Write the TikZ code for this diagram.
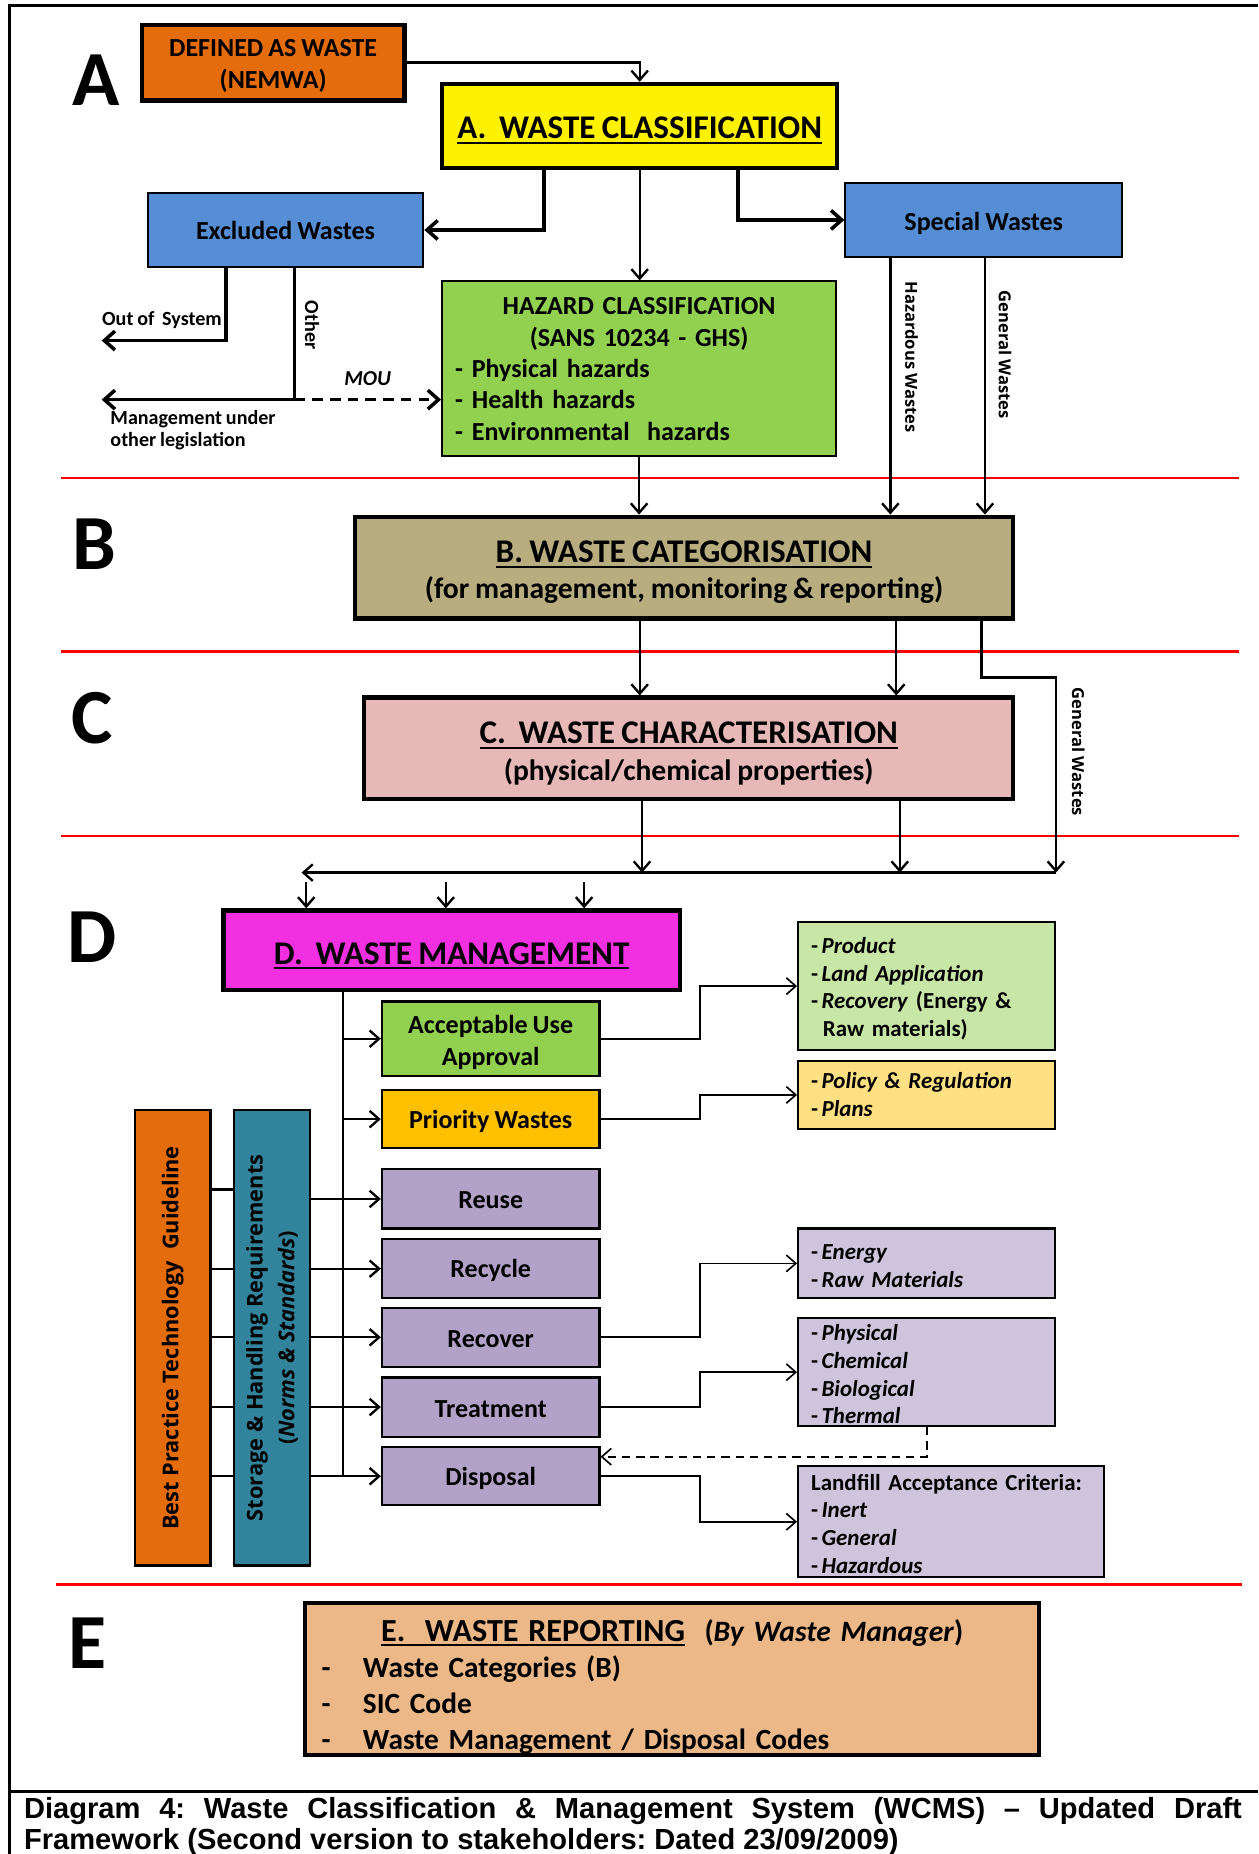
\documentclass[tikz,border=0pt]{standalone}
\usepackage{fontspec}
\setmainfont{Carlito}[WordSpace=0.85]
\newfontfamily\osans{Open Sans}
\newfontfamily\capfont{Liberation Sans}
\usetikzlibrary{arrows.meta,calc}
\frenchspacing
\definecolor{cOrange}{HTML}{E46C0A}
\definecolor{cBlue}{HTML}{558ED5}
\definecolor{cGreen}{HTML}{92D050}
\definecolor{cKhaki}{HTML}{B7AD7F}
\definecolor{cPink}{HTML}{E6B9B8}
\definecolor{cMag}{HTML}{F22FE1}
\definecolor{cPri}{HTML}{FFC000}
\definecolor{cLav}{HTML}{B3A2C7}
\definecolor{cLGreen}{HTML}{C8E6A6}
\definecolor{cLYellow}{HTML}{FFE083}
\definecolor{cLLav}{HTML}{CEC5DC}
\definecolor{cTeal}{HTML}{31849B}
\definecolor{cE}{HTML}{EDB887}
\newcommand\ulx[1]{\setbox0\hbox{#1}\rlap{\rule[-2.2pt]{\wd0}{1pt}}\box0}
\newcommand\bx[7]{\node[#6, minimum width={(#4-#2)*0.5pt}, minimum height={(#5-#3)*0.5pt}] (#1) at ({(#2+#4)/2},{(#3+#5)/2}) {#7};}
\newcommand\fs[2]{\fontsize{#1}{#2}\selectfont}
\newcommand\st[1]{\rule{0pt}{#1}}
\newcommand\dd{-\hspace{0.15em}}
\tikzset{
  thickbox/.style={draw, line width=1.8pt, inner sep=0pt, font=\bfseries},
  thinbox/.style={draw, line width=0.9pt, inner sep=0pt, font=\bfseries},
  arr/.style={line width=1pt, -{Straight Barb[length=4pt,width=7pt]}},
  arrT/.style={line width=1.5pt, -{Straight Barb[length=4.5pt,width=8pt]}},
  arrS/.style={line width=0.7pt, -{Straight Barb[length=4pt,width=7pt]}},
  redline/.style={red, line width=1pt},
  bigletter/.style={font=\bfseries\fs{33}{33}, inner sep=0pt},
  vlabel/.style={rotate=-90, font=\osans\bfseries\fs{7}{8}, inner sep=0pt},
  smalllabel/.style={font=\bfseries\fs{8.5}{9.5}, inner sep=0pt},
  listfont/.style={font=\bfseries\fs{9.7}{11.75}},
}
\begin{document}
\begin{tikzpicture}[x=0.5pt,y=-0.5pt]
\useasboundingbox (0,0) rectangle (1064,1568);
% frame
\draw[line width=1.2pt] (1064,5) -- (8,5) -- (8,1568);
\draw[line width=1.2pt] (8,1515) -- (1064,1515);
% red separators
\draw[redline] (52,404) -- (1048,404);
\draw[redline] (52,551) -- (1048,551);
\draw[redline] (52,707) -- (1048,707);
\draw[redline] (47,1340) -- (1050,1340);
% section letters
\node[bigletter] (LA) at (81,68) {A};
\node[bigletter] (LB) at (80,460) {B};
\node[bigletter] (LC) at (78,607) {C};
\node[bigletter] (LD) at (78,793) {D};
\node[bigletter] (LE) at (74,1390) {E};
% ---- A section
\bx{def}{120}{21}{342}{85}{thickbox,fill=cOrange,align=center,font=\bfseries\fs{11}{13.5}}{\st{10pt}DEFINED AS WASTE\\(NEMWA)}
\bx{A}{374}{71}{708}{142}{thickbox,fill=yellow,font=\bfseries\fs{14}{16}}{\st{13pt}\ulx{A.\ \ WASTE CLASSIFICATION}}
\bx{exc}{125}{163}{358}{226}{thinbox,fill=cBlue,font=\bfseries\fs{11}{13}}{\st{8.5pt}Excluded Wastes}
\bx{spec}{715}{155}{949}{217}{thinbox,fill=cBlue,font=\bfseries\fs{11}{13}}{\st{10.5pt}Special Wastes}
\bx{haz}{374}{238}{707}{386}{thinbox,fill=cGreen,align=left,text width=155.5pt,font=\bfseries\fs{11}{13.25}}{\makebox[\linewidth]{HAZARD CLASSIFICATION}\\\makebox[\linewidth]{(SANS 10234 - GHS)}\\- Physical hazards\\- Health hazards\\- Environmental\ \ hazards}
\draw[arr] (def.east) -| (A.north);
\draw[arrT] (A.south -| 460,0) |- (exc.east);
\draw[arrT] (A.south -| 624,0) |- (spec.west);
\draw[arr] (A.south) -- (A.south |- haz.north);
\coordinate (oos) at (86,288);
\coordinate (mj) at (249,338);
\coordinate (mol) at (86,338);
\draw[arrT] (exc.south -| 191,0) |- (oos);
\draw[line width=1.5pt] (exc.south -| mj) -- (mj);
\draw[arrT] (mj) -- (mol);
\draw[arrT, dash pattern=on 4.5pt off 3pt] (mj) -- (haz.west |- mj);
\node[smalllabel, anchor=east] (oosl) at (188,271) {Out of\ \ System};
\node[smalllabel, anchor=west, align=left] (mgl) at (93,364) {Management under\\other legislation};
\node[smalllabel, rotate=-90] (oth) at (264,275) {Other};
\node[font=\bfseries\itshape\fs{9}{10}, inner sep=0pt] (mou) at (311,320) {MOU};
\node[vlabel] (hw) at (771,302) {Hazardous Wastes};
\node[vlabel] (gw1) at (850,300) {General Wastes};
% ---- B section
\bx{B}{300}{437}{857}{523}{thickbox,fill=cKhaki,align=center,font=\bfseries\fs{12.5}{15}}{{\fs{14}{15}\st{13pt}\ulx{B. WASTE CATEGORISATION}}\\(for management, monitoring \& reporting)}
\draw[arr] (spec.south -| 753,0) -- (B.north -| 753,0);
\draw[arr] (spec.south -| 833,0) -- (B.north -| 833,0);
\draw[arr] (haz.south) -- (haz.south |- B.north);
% ---- C section
\bx{C}{308}{590}{857}{676}{thickbox,fill=cPink,align=center,font=\bfseries\fs{12.5}{15.5}}{{\fs{14}{15.5}\st{13.5pt}\ulx{C.\ \ WASTE CHARACTERISATION}}\\(physical/chemical properties)}
\draw[arr] (B.south -| 541,0) -- (C.north -| 541,0);
\draw[arr] (B.south -| 758,0) -- (C.north -| 758,0);
\coordinate (gwb) at (893,738);
\coordinate (busl) at (255,738);
\draw[arr] (B.south -| 830,0) -- (830,573) -| (gwb);
\node[vlabel] (gw2) at (912,636) {General Wastes};
\draw[arr] (C.south -| 543,0) -- (gwb -| 543,0);
\draw[arr] (C.south -| 761,0) -- (gwb -| 761,0);
\draw[arr] (gwb) -- (busl);
% ---- D section
\bx{D}{189}{770}{575}{837}{thickbox,fill=cMag,font=\bfseries\fs{14}{16}}{\st{14pt}\ulx{D.\ \ WASTE MANAGEMENT}}
\draw[arr] (259,746) -- (D.north -| 259,0);
\draw[arr] (377,746) -- (D.north -| 377,0);
\draw[arr] (494,746) -- (D.north -| 494,0);
\bx{acc}{323}{847}{507}{910}{thinbox,fill=cGreen,align=center,font=\bfseries\fs{11}{13.5}}{\st{10.5pt}Acceptable Use\\Approval}
\bx{pri}{323}{922}{507}{971}{thinbox,fill=cPri,font=\bfseries\fs{11}{13}}{\st{9.5pt}Priority Wastes}
\bx{reuse}{323}{989}{507}{1039}{thinbox,fill=cLav,font=\bfseries\fs{11}{13}}{\st{8pt}Reuse}
\bx{recy}{323}{1048}{507}{1098}{thinbox,fill=cLav,font=\bfseries\fs{11}{13}}{\st{9.5pt}Recycle}
\bx{recov}{323}{1106}{507}{1156}{thinbox,fill=cLav,font=\bfseries\fs{11}{13}}{\st{9pt}Recover}
\bx{treat}{323}{1165}{507}{1215}{thinbox,fill=cLav,font=\bfseries\fs{11}{13}}{\st{8.5pt}Treatment}
\bx{disp}{323}{1224}{507}{1273}{thinbox,fill=cLav,font=\bfseries\fs{11}{13}}{\st{9.5pt}Disposal}
\bx{prod}{675}{780}{892}{888}{thinbox,fill=cLGreen,align=left,text width=97.5pt,listfont}{\st{9pt}\dd\textit{Product}\\\dd\textit{Land Application}\\\dd\textit{Recovery} (Energy \&\\\hspace*{5pt}Raw materials)}
\bx{pol}{675}{897}{892}{955}{thinbox,fill=cLYellow,align=left,text width=97.5pt,listfont}{\dd\textit{Policy \& Regulation}\\\dd\textit{Plans}}
\bx{en}{675}{1039}{892}{1098}{thinbox,fill=cLLav,align=left,text width=97.5pt,listfont}{\st{8.5pt}\dd\textit{Energy}\\\dd\textit{Raw Materials}}
\bx{phys}{675}{1115}{892}{1206}{thinbox,fill=cLLav,align=left,text width=97.5pt,listfont}{\st{8.5pt}\dd\textit{Physical}\\\dd\textit{Chemical}\\\dd\textit{Biological}\\\dd\textit{Thermal}}
\bx{land}{675}{1240}{934}{1334}{thinbox,fill=cLLav,align=left,text width=118.5pt,listfont}{\st{8.5pt}Landfill Acceptance Criteria:\\\dd\textit{Inert}\\\dd\textit{General}\\\dd\textit{Hazardous}}
\bx{bpt}{114}{939}{178}{1324}{thinbox,fill=cOrange}{}
\bx{stor}{198}{939}{262}{1324}{thinbox,fill=cTeal}{}
\node[rotate=90, font=\osans\bfseries\fs{9.2}{11}, inner sep=0pt] (bptt) at (bpt) {Best Practice Technology\ \ Guideline};
\node[rotate=90, align=center, font=\osans\bfseries\fs{9.2}{13.5}, inner sep=0pt] (stort) at (stor) {Storage \& Handling Requirements\\(\textit{Norms \& Standards})};
% trunk and branches
\coordinate (trk) at (290,1249);
\draw[line width=1pt] (D.south -| trk) -- (trk);
\draw[arr] (acc.west -| trk) -- (acc.west);
\draw[arr] (pri.west -| trk) -- (pri.west);
\draw[arr] (reuse.west -| stor.east) -- (reuse.west);
\draw[arr] (recy.west -| stor.east) -- (recy.west);
\draw[arr] (recov.west -| stor.east) -- (recov.west);
\draw[arr] (treat.west -| stor.east) -- (treat.west);
\draw[arr] (disp.west -| stor.east) -- (disp.west);
\draw[line width=1pt] (bpt.east |- 0,1006) -- (stor.west |- 0,1006);
\draw[line width=1pt] (bpt.east |- recy.west) -- (stor.west |- recy.west);
\draw[line width=1pt] (bpt.east |- recov.west) -- (stor.west |- recov.west);
\draw[line width=1pt] (bpt.east |- treat.west) -- (stor.west |- treat.west);
\draw[line width=1pt] (bpt.east |- disp.west) -- (stor.west |- disp.west);
\draw[arrS] (acc.east) -- ++(84,0) |- (prod.west);
\draw[arrS] (pri.east) -- ++(84,0) |- (pol.west);
\draw[arrS] (recov.east) -- ++(84,0) |- (en.west);
\draw[arrS] (treat.east) -- ++(84,0) |- (phys.west);
\draw[arrS] (disp.east) -- ++(84,0) |- (land.west);
\draw[arrS, dash pattern=on 3.5pt off 2.5pt] (phys.south -| 784,0) |- (disp.east |- 0,1232);
% ---- E section
\bx{E}{258}{1357}{879}{1483}{thickbox,fill=cE,align=left,text width=296.5pt,font=\bfseries\fs{12.4}{15.3}}{\makebox[\linewidth]{\st{16pt}{\fs{13.6}{15.3}\ulx{E.\ \ WASTE REPORTING}}\ \ {\fs{12.5}{15.3}(\textit{By Waste Manager})}}\\\makebox[17.5pt][l]{-}Waste Categories (B)\\\makebox[17.5pt][l]{-}SIC Code\\\makebox[17.5pt][l]{-}Waste Management / Disposal Codes}
% caption
\node[anchor=north west, text width=515pt, align=justify, inner sep=0pt, font=\capfont\bfseries\fs{12.3}{13}] (cap) at (20,1520) {Diagram 4: Waste Classification \& Management System (WCMS) – Updated Draft\linebreak Framework (Second version to stakeholders: Dated 23/09/2009)};
\end{tikzpicture}
\end{document}
